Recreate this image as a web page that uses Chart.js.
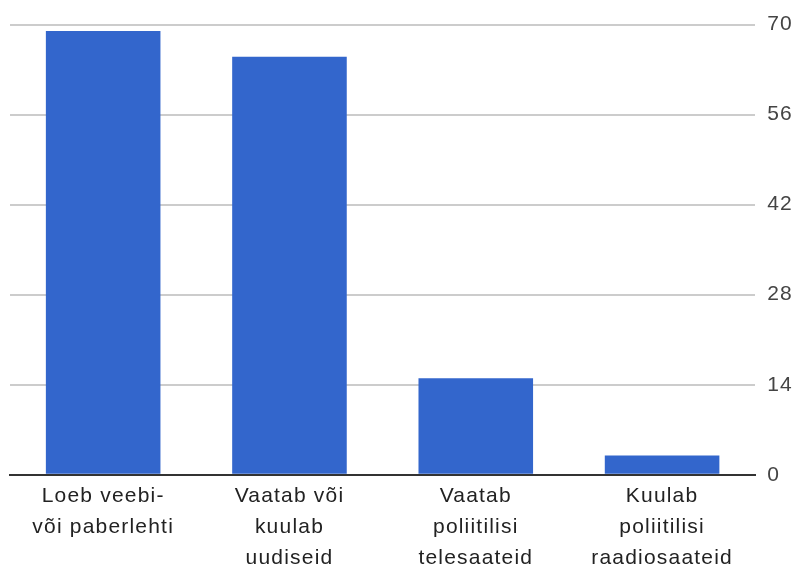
<!DOCTYPE html>
<html>
<head>
<meta charset="utf-8">
<script src="https://cdn.jsdelivr.net/npm/chart.js@4"></script>
<style>
  html, body { margin: 0; padding: 0; background: #fff; }
  #wrap { width: 808px; height: 576px; }
</style>
</head>
<body>
<div id="wrap"><canvas id="chart" width="808" height="576"></canvas></div>
<script>
const categories = [
    ["Loeb veebi-", "või paberlehti"],
    ["Vaatab või", "kuulab", "uudiseid"],
    ["Vaatab", "poliitilisi", "telesaateid"],
    ["Kuulab", "poliitilisi", "raadiosaateid"]
];
const values = [69, 65, 15, 3];
const yTicks = [0, 14, 28, 42, 56, 70];

// the reference text is spaced a bit wider than plain Arial
const spacing = {
    id: "spacing",
    beforeLayout: chart => { chart.ctx.letterSpacing = "1.2px"; },
    beforeDraw: chart => { chart.ctx.letterSpacing = "1.2px"; }
};

new Chart(document.getElementById("chart"), {
    type: "bar",
    data: {
        labels: categories,
        datasets: [{
            data: values,
            backgroundColor: "#3366cc",
            barPercentage: 0.615,
            categoryPercentage: 1
        }]
    },
    options: {
        responsive: false,
        animation: false,
        layout: { padding: { left: 10, right: 3, top: 13, bottom: -4 } },
        plugins: { legend: { display: false }, tooltip: { enabled: false } },
        scales: {
            x: {
                grid: { display: false, drawTicks: false },
                border: { display: true, color: "#333", width: 2 },
                ticks: {
                    color: "#222",
                    padding: 6,
                    maxRotation: 0,
                    font: { family: "Arial, 'Liberation Sans', sans-serif", size: 21, lineHeight: 1.48 }
                }
            },
            y: {
                position: "right",
                min: 0,
                max: 70,
                afterBuildTicks: axis => { axis.ticks = yTicks.map(v => ({ value: v })); },
                grid: { color: "#cccccc", lineWidth: 2, drawTicks: false },
                border: { display: false },
                ticks: {
                    color: "#444",
                    padding: 12,
                    font: { family: "Arial, 'Liberation Sans', sans-serif", size: 21 }
                }
            }
        }
    },
    plugins: [spacing]
});
</script>
</body>
</html>
